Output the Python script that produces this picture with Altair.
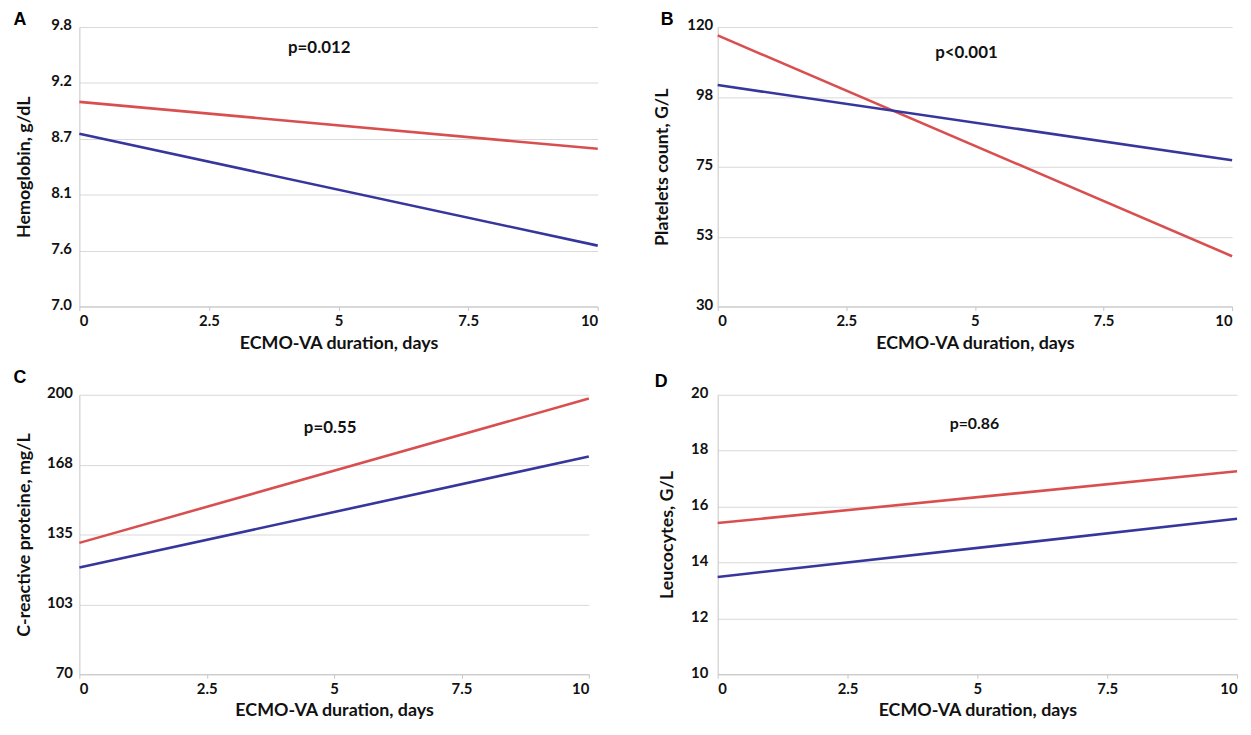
import altair as alt
import pandas as pd

# ---------------- data ----------------
X_DAYS = [0, 10]

hb_red = [9.05, 8.58]
hb_blue = [8.73, 7.61]
plt_red = [117.3, 46.2]
plt_blue = [101.3, 77.1]
crp_red = [131.1, 198.2]
crp_blue = [119.6, 171.3]
leu_red = [15.41, 17.26]
leu_blue = [13.48, 15.56]

hb_ticks = [7.0, 7.56, 8.12, 8.68, 9.24, 9.8]
hb_labels = ["7.0", "7.6", "8.1", "8.7", "9.2", "9.8"]
plt_ticks = [30, 52.5, 75, 97.5, 120]
plt_labels = ["30", "53", "75", "98", "120"]
crp_ticks = [70, 102.5, 135, 167.5, 200]
crp_labels = ["70", "103", "135", "168", "200"]
leu_ticks = [10, 12, 14, 16, 18, 20]
leu_labels = ["10", "12", "14", "16", "18", "20"]
x_ticks = [0, 2.5, 5, 7.5, 10]
x_labels = ["0", "2.5", "5", "7.5", "10"]

RED = "#d94f4f"
BLUE = "#36369c"
FONT = "Lato"
GRID = "#d9d9d9"
AXIS = "#c4c4c4"
H = 282


def label_expr(ticks, labels):
    arr_l = "[" + ",".join("'%s'" % l for l in labels) + "]"
    arr_t = "[" + ",".join(repr(float(t)) for t in ticks) + "]"
    return "%s[indexof(%s, datum.value)]" % (arr_l, arr_t)


def panel(red, blue, ticks, labels, ytitle, ptxt, letter, width,
          lab_pad, ext, title_pad, ppos, lpos, pfs=17):
    df = pd.DataFrame({
        "x": X_DAYS + X_DAYS,
        "y": list(red) + list(blue),
        "g": ["red"] * 2 + ["blue"] * 2,
    })
    lines = alt.Chart(df).mark_line(strokeWidth=2.6).encode(
        x=alt.X("x:Q",
                scale=alt.Scale(domain=[0, 10], nice=False),
                axis=alt.Axis(values=x_ticks, labelExpr=label_expr(x_ticks, x_labels),
                              title="ECMO-VA duration, days", grid=False,
                              tickSize=4, labelPadding=3, titlePadding=6,
                              tickColor=AXIS, domainColor=AXIS)),
        y=alt.Y("y:Q",
                scale=alt.Scale(domain=[ticks[0], ticks[-1]], nice=False, zero=False),
                axis=alt.Axis(values=ticks, labelExpr=label_expr(ticks, labels),
                              title=ytitle, grid=True, gridColor=GRID,
                              ticks=False, tickSize=0, labelPadding=lab_pad,
                              labelBaseline="alphabetic", labelOffset=3,
                              minExtent=ext, maxExtent=ext, titlePadding=title_pad,
                              domainColor=AXIS)),
        color=alt.Color("g:N", scale=alt.Scale(domain=["red", "blue"], range=[RED, BLUE]),
                        legend=None),
        detail="g:N",
    )
    ptext = alt.Chart(pd.DataFrame({"t": [ptxt]})).mark_text(
        font=FONT, fontWeight="bold", fontSize=pfs, color="#111111",
        align="center", baseline="middle",
    ).encode(text="t:N", x=alt.value(ppos[0]), y=alt.value(ppos[1]))
    ltext = alt.Chart(pd.DataFrame({"t": [letter]})).mark_text(
        font="Liberation Sans", fontWeight="bold", fontSize=18, color="#000000",
        align="center", baseline="middle",
    ).encode(text="t:N", x=alt.value(lpos[0]), y=alt.value(lpos[1]))
    return alt.layer(lines, ptext, ltext).properties(width=width, height=H)


pA = panel(hb_red, hb_blue, hb_ticks, hb_labels, "Hemoglobin, g/dL", "p=0.012", "A",
           523, 8, 30, 16, (242, 21), (-60, -7))
pB = panel(plt_red, plt_blue, plt_ticks, plt_labels, "Platelets count, G/L", "p<0.001", "B",
           519, 5, 30, 17, (251, 26), (-51, -7))
pC = panel(crp_red, crp_blue, crp_ticks, crp_labels, "C-reactive proteine, mg/L", "p=0.55", "C",
           514, 7, 32, 14, (253, 34), (-60, -17))
pD = panel(leu_red, leu_blue, leu_ticks, leu_labels, "Leucocytes, G/L", "p=0.86", "D",
           524, 10, 30, 12, (259, 30), (-57, -13), pfs=16)

chart = alt.concat(
    pA, pB, pC, pD,
    columns=2,
    spacing={"row": 17, "column": 50},
).configure(
    padding={"left": 5, "top": 0, "right": 0, "bottom": 0},
).configure_view(
    stroke=None,
).configure_axis(
    labelFont=FONT, labelFontWeight="bold", labelFontSize=15, labelColor="#111111",
    titleFont=FONT, titleFontWeight="bold", titleFontSize=18, titleColor="#111111",
)

chart.save("out.html", embed_options={"renderer": "svg", "actions": False})
